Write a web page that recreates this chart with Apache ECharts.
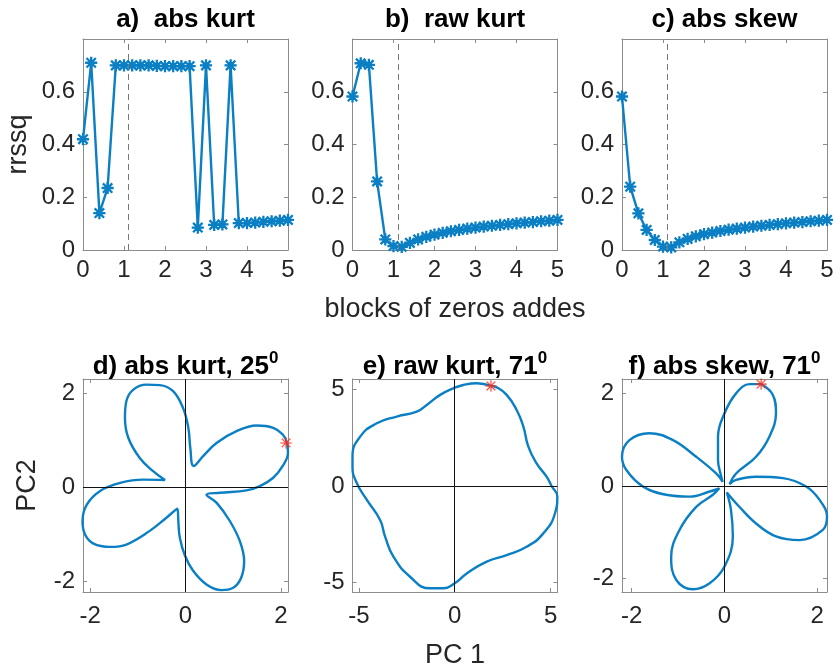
<!DOCTYPE html>
<html>
<head>
<meta charset="utf-8">
<script src="https://cdn.jsdelivr.net/npm/echarts@6/dist/echarts.min.js"></script>
<style>
html, body { margin: 0; padding: 0; background: #fff; }
#chart { width: 835px; height: 667px; }
</style>
</head>
<body>
<div id="chart"></div>
<script>
// ---- top row: rrssq against number of zero blocks added ----
const blocks = [0, 0.2, 0.4, 0.6, 0.8, 1.0, 1.2, 1.4, 1.6, 1.8, 2.0, 2.2, 2.4,
                2.6, 2.8, 3.0, 3.2, 3.4, 3.6, 3.8, 4.0, 4.2, 4.4, 4.6, 4.8, 5.0];
const rrssqAbsKurt = [0.42, 0.71, 0.14, 0.235, 0.70, 0.70, 0.70, 0.70, 0.70, 0.698, 0.697, 0.697, 0.697,
                      0.697, 0.085, 0.70, 0.095, 0.097, 0.70, 0.102, 0.102, 0.104, 0.107, 0.109, 0.111, 0.114];
const rrssqRawKurt = [0.582, 0.708, 0.702, 0.26, 0.04, 0.015, 0.012, 0.027, 0.040, 0.050, 0.058, 0.065, 0.071,
                      0.076, 0.081, 0.085, 0.089, 0.092, 0.095, 0.098, 0.101, 0.104, 0.106, 0.109, 0.111, 0.114];
const rrssqAbsSkew = [0.582, 0.24, 0.139, 0.076, 0.038, 0.013, 0.010, 0.029, 0.042, 0.052, 0.060, 0.066, 0.072,
                      0.077, 0.081, 0.085, 0.089, 0.092, 0.095, 0.098, 0.101, 0.104, 0.106, 0.109, 0.111, 0.114];
const chosenBlocks = 1.11;
const topXTicks = [0, 1, 2, 3, 4, 5];
const topYTicks = [0, 0.2, 0.4, 0.6];

// ---- bottom row: criterion traced round the PC1/PC2 plane ----
const absKurtPC1 = [2.13, 2.04, 1.84, 1.49, 1.07, 0.65, 0.37, 0.17, 0.10, 0.06, -0.05, -0.26, -0.54, -0.82, -1.10, -1.24, -1.27, -1.20, -0.96, -0.68, -0.43,
                    -0.89, -1.37, -1.79, -2.07, -2.16, -2.11, -1.93, -1.58, -1.24, -0.75, -0.40, -0.17,
                    -0.15, -0.12, -0.01, 0.16, 0.44, 0.75, 1.00, 1.17, 1.23, 1.14, 0.93, 0.65, 0.44,
                    0.72, 1.28, 1.56, 1.84, 2.04, 2.15, 2.13];
const absKurtPC2 = [0.94, 1.12, 1.26, 1.31, 1.19, 0.94, 0.66, 0.45, 0.84, 1.26, 1.68, 2.04, 2.17, 2.18, 2.07, 1.83, 1.47, 1.05, 0.62, 0.34, 0.15,
                    0.16, 0.09, -0.08, -0.37, -0.72, -1.00, -1.20, -1.27, -1.22, -0.93, -0.65, -0.46,
                    -0.73, -1.07, -1.46, -1.78, -2.07, -2.19, -2.14, -1.92, -1.57, -1.15, -0.72, -0.33, -0.16,
                    -0.12, -0.07, 0.02, 0.20, 0.45, 0.73, 0.94];
const rawKurtPC1 = [1.89, 1.15, 0.45, -0.07, -0.76, -1.46, -1.98, -3.02, -4.06, -4.93, -5.33, -5.33, -5.10, -4.58, -3.89, -3.63, -3.19, -2.33,
                    -1.28, -0.59, 0, 0.63, 1.67, 2.71, 3.75, 4.62, 5.23, 5.35, 5.05, 4.79, 4.27, 3.84, 3.58, 3.23, 2.71, 2.19, 1.89];
const rawKurtPC2 = [5.17, 5.31, 5.22, 5.05, 4.71, 4.19, 3.84, 3.59, 3.24, 2.55, 1.52, 1.00, 0.14, -0.72, -1.76, -2.62, -3.66, -4.69,
                    -5.29, -5.29, -5.03, -4.52, -3.91, -3.57, -3.14, -2.45, -1.41, -0.55, 0, 0.48, 1.17, 2.03, 3.07, 3.93, 4.71, 5.10, 5.17];
const absSkewPC1 = [0.79, 0.54, 0.25, 0, -0.14, -0.14, -0.07, -0.04,
                    -0.18, -0.61, -1.11, -1.62, -2.05, -2.21, -2.12, -1.76, -1.26, -0.75, -0.32, -0.11,
                    -0.25, -0.61, -0.97, -1.15, -1.04, -0.68, -0.32, 0, 0.18, 0.14, 0.05,
                    0.32, 0.68, 1.11, 1.62, 2.12, 2.21, 2.05, 1.76, 1.26, 0.68, 0.25, 0.11,
                    0.25, 0.68, 0.97, 1.11, 1.04, 0.79];
const absSkewPC2 = [2.20, 2.20, 2.00, 1.57, 1.07, 0.56, 0.20, 0.09,
                    0.27, 0.63, 0.99, 1.14, 0.99, 0.63, 0.35, -0.01, -0.19, -0.23, -0.12, -0.05,
                    -0.19, -0.45, -0.95, -1.53, -2.03, -2.23, -2.10, -1.74, -1.09, -0.52, -0.14,
                    -0.45, -0.81, -1.09, -1.17, -0.95, -0.66, -0.30, -0.01, 0.17, 0.20, 0.13, 0.04,
                    0.27, 0.63, 1.07, 1.57, 1.97, 2.20];
const absKurtPeak = [2.11, 0.94];
const rawKurtPeak = [1.89, 5.17];
const absSkewPeak = [0.79, 2.20];
const smallTicks = [-2, 0, 2];
const largeTicks = [-5, 0, 5];

const FONT = '"Liberation Sans", Helvetica, Arial, sans-serif';
const BLUE = '#0b7fc4';
const RED = '#ff2b1c';
const FRAME = '#8c8c8c';
const TEXT = '#262626';
const ASTERISK = 'path://M0,9L20,9L20,11L0,11Z M9,0L11,0L11,20L9,20Z ' +
  'M2.93,1.52L18.48,17.07L17.07,18.48L1.52,2.93Z M17.07,1.52L18.48,2.93L2.93,18.48L1.52,17.07Z';

const panels = [
  { left: 83,    top: 39,  width: 205, height: 211 },
  { left: 352.5, top: 39,  width: 205, height: 211 },
  { left: 622,   top: 39,  width: 205, height: 211 },
  { left: 83,    top: 379, width: 205, height: 213 },
  { left: 352.5, top: 379, width: 205, height: 213 },
  { left: 622,   top: 379, width: 205, height: 213 }
];

const xAxes = [];
const yAxes = [];
const nameStyle = { fontSize: 27, color: TEXT, fontFamily: FONT };

function addAxes(gi, xr, yr, xTicks, yTicks, xName, yName, xGap, yGap, xMargin) {
  const base = (pos, ticks, min, max, showLabel, margin) => ({
    type: 'value', gridIndex: gi, position: pos, min: min, max: max,
    axisLine: { show: true, onZero: false, lineStyle: { color: FRAME, width: 1 } },
    axisTick: { show: true, inside: true, length: 4, customValues: ticks, lineStyle: { color: FRAME } },
    axisLabel: { show: showLabel, customValues: ticks, color: TEXT, fontSize: 24, fontFamily: FONT, margin: margin },
    splitLine: { show: false }
  });
  const xb = base('bottom', xTicks, xr[0], xr[1], true, xMargin);
  if (xName) {
    Object.assign(xb, { name: xName, nameLocation: 'middle', nameGap: xGap, nameTextStyle: nameStyle });
  }
  xAxes.push(xb, base('top', xTicks, xr[0], xr[1], false, 8));
  const yl = base('left', yTicks, yr[0], yr[1], true, 8);
  if (yName) {
    Object.assign(yl, { name: yName, nameLocation: 'middle', nameGap: yGap, nameRotate: 90, nameTextStyle: nameStyle });
  }
  yAxes.push(yl, base('right', yTicks, yr[0], yr[1], false, 8));
}

addAxes(0, [0, 5], [0, 0.8], topXTicks, topYTicks, null, 'rrssq', 0, 51, 8);
addAxes(1, [0, 5], [0, 0.8], topXTicks, topYTicks, 'blocks of zeros addes', null, 46, 0, 8);
addAxes(2, [0, 5], [0, 0.8], topXTicks, topYTicks, null, null, 0, 0, 8);
addAxes(3, [-2.15, 2.15], [-2.23, 2.3], smallTicks, smallTicks, null, 'PC2', 0, 42, 12);
addAxes(4, [-5.33, 5.36], [-5.48, 5.53], largeTicks, largeTicks, 'PC 1', null, 50, 0, 12);
addAxes(5, [-2.21, 2.21], [-2.29, 2.31], smallTicks, smallTicks, null, null, 0, 0, 12);

const pairs = (xs, ys) => xs.map((v, i) => [v, ys[i]]);

function rrssqSeries(gi, values) {
  return {
    type: 'line', xAxisIndex: 2 * gi, yAxisIndex: 2 * gi,
    data: pairs(blocks, values),
    lineStyle: { color: BLUE, width: 2.4 },
    symbol: ASTERISK, symbolSize: 11, showAllSymbol: true,
    itemStyle: { color: BLUE, borderColor: BLUE, borderWidth: 1.2 },
    animation: false, z: 3,
    markLine: {
      silent: true, symbol: 'none', animation: false,
      label: { show: false },
      lineStyle: { type: [6, 4], color: '#777', width: 1 },
      data: [{ xAxis: chosenBlocks }]
    }
  };
}

function curveSeries(gi, xs, ys, smoothness) {
  return {
    type: 'line', xAxisIndex: 2 * gi, yAxisIndex: 2 * gi,
    data: pairs(xs, ys), smooth: smoothness, showSymbol: false,
    lineStyle: { color: BLUE, width: 2.4 },
    animation: false, z: 3,
    markLine: {
      silent: true, symbol: 'none', animation: false,
      label: { show: false },
      lineStyle: { type: 'solid', color: '#111', width: 1 },
      data: [{ xAxis: 0 }, { yAxis: 0 }]
    }
  };
}

function peakSeries(gi, pt) {
  return {
    type: 'scatter', xAxisIndex: 2 * gi, yAxisIndex: 2 * gi,
    data: [pt], symbol: ASTERISK, symbolSize: 11,
    itemStyle: { color: RED, borderColor: RED, borderWidth: 0.2 },
    animation: false, z: 5
  };
}

const titleStyle = { fontSize: 26, fontWeight: 'bold', fontFamily: FONT, color: '#000' };
function mkTitle(gi, main, sup) {
  const p = panels[gi];
  const t = {
    left: p.left + p.width / 2, top: p.top - (sup ? 29 : 34), textAlign: 'center', padding: 0
  };
  if (sup) {
    t.text = '{m|' + main + '}{s|' + sup + '}';
    t.textStyle = { rich: {
      m: Object.assign({}, titleStyle, { verticalAlign: 'bottom', lineHeight: 30 }),
      s: Object.assign({}, titleStyle, { fontSize: 17, verticalAlign: 'top', lineHeight: 30 })
    } };
  } else {
    t.text = main;
    t.textStyle = Object.assign({}, titleStyle, { lineHeight: 30 });
  }
  return t;
}

const option = {
  backgroundColor: '#fff',
  animation: false,
  title: [
    mkTitle(0, 'a)  abs kurt'),
    mkTitle(1, 'b)  raw kurt'),
    mkTitle(2, 'c) abs skew'),
    mkTitle(3, 'd) abs kurt, 25', '0'),
    mkTitle(4, 'e) raw kurt, 71', '0'),
    mkTitle(5, 'f) abs skew, 71', '0')
  ],
  grid: panels.map(p => Object.assign({ containLabel: false, outerBoundsMode: 'none' }, p)),
  xAxis: xAxes,
  yAxis: yAxes,
  series: [
    rrssqSeries(0, rrssqAbsKurt),
    rrssqSeries(1, rrssqRawKurt),
    rrssqSeries(2, rrssqAbsSkew),
    curveSeries(3, absKurtPC1, absKurtPC2, 0.4),
    curveSeries(4, rawKurtPC1, rawKurtPC2, 0.5),
    curveSeries(5, absSkewPC1, absSkewPC2, 0.4),
    peakSeries(3, absKurtPeak),
    peakSeries(4, rawKurtPeak),
    peakSeries(5, absSkewPeak)
  ]
};

const chart = echarts.init(document.getElementById('chart'), null, { renderer: 'canvas' });
chart.setOption(option);
</script>
</body>
</html>
